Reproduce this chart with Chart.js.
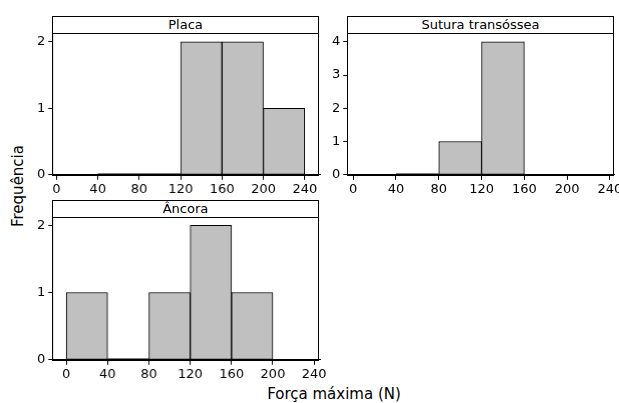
<!DOCTYPE html>
<html lang="pt">
<head>
  <meta charset="UTF-8" />
  <title>Força máxima (N)</title>
  <script src="https://cdn.jsdelivr.net/npm/chart.js"></script>
  <style>
    body {
      margin: 0;
      width: 619px;
      height: 403px;
      background: #fff;
      position: relative;
      overflow: hidden;
      font-family: "DejaVu Sans", sans-serif;
      color: #000;
    }
    canvas { position: absolute; }
    .frame {
      position: absolute;
      box-sizing: border-box;
      border: 1px solid #000;
      pointer-events: none;
    }
    .strip {
      position: absolute;
      box-sizing: border-box;
      border: 1px solid #000;
      background: #fff;
      font-size: 13px;
      line-height: 16px;
      text-align: center;
    }
    .axis-title {
      position: absolute;
      font-size: 15px;
      white-space: nowrap;
      text-align: center;
    }
  </style>
</head>
<body>
  <div class="axis-title" id="ytitle">Frequência</div>
  <div class="axis-title" id="xtitle">Força máxima (N)</div>
  <script>
    // bins are 40 N wide, each list holds the left edge of the bin
    const binWidth = 40;
    const xTicks = [0, 40, 80, 120, 160, 200, 240];

    const placaBins = [40, 80, 120, 160, 200];
    const placaCounts = [0, 0, 2, 2, 1];
    const placaYTicks = [0, 1, 2];

    const suturaBins = [40, 80, 120];
    const suturaCounts = [0, 1, 4];
    const suturaYTicks = [0, 1, 2, 3, 4];

    const ancoraBins = [0, 40, 80, 120, 160];
    const ancoraCounts = [1, 0, 1, 2, 1];
    const ancoraYTicks = [0, 1, 2];

    Chart.defaults.font.family = '"DejaVu Sans", sans-serif';
    Chart.defaults.font.size = 13;
    Chart.defaults.color = "#000";

    const panels = [
      { title: "Placa", bins: placaBins, counts: placaCounts, yTicks: placaYTicks,
        xMin: -4, xMax: 255, yMax: 2.135,
        box: { left: 52, top: 16, right: 318, strip: 33, bottom: 175 } },
      { title: "Sutura transóssea", bins: suturaBins, counts: suturaCounts, yTicks: suturaYTicks,
        xMin: -5.5, xMax: 244, yMax: 4.27,
        box: { left: 347, top: 16, right: 613, strip: 33, bottom: 175 } },
      { title: "Âncora", bins: ancoraBins, counts: ancoraCounts, yTicks: ancoraYTicks,
        xMin: -13.5, xMax: 246, yMax: 2.125,
        box: { left: 52, top: 200, right: 318, strip: 217, bottom: 360 } }
    ];

    function zeroSegments(bins, counts) {
      const pts = [];
      bins.forEach((b, i) => {
        if (counts[i] === 0) {
          if (pts.length && pts[pts.length - 1] && pts[pts.length - 1].x !== b) pts.push(null);
          pts.push({ x: b, y: 0 }, { x: b + binWidth, y: 0 });
        }
      });
      return pts;
    }

    function buildPanel(p) {
      const canvas = document.createElement("canvas");
      canvas.width = 400;
      canvas.height = 260;
      document.body.appendChild(canvas);

      const chart = new Chart(canvas, {
        type: "bar",
        data: {
          datasets: [
            {
              type: "bar",
              data: p.bins.map((b, i) => ({ x: b + binWidth / 2, y: p.counts[i] })),
              backgroundColor: "#c0c0c0",
              borderColor: "#000",
              borderWidth: 1,
              borderSkipped: false,
              barPercentage: 1,
              categoryPercentage: 1
            },
            {
              type: "line",
              data: zeroSegments(p.bins, p.counts),
              borderColor: "#000",
              borderWidth: 2.5,
              pointRadius: 0,
              spanGaps: false
            }
          ]
        },
        options: {
          responsive: false,
          maintainAspectRatio: false,
          animation: false,
          layout: { padding: 0 },
          plugins: { legend: { display: false }, tooltip: { enabled: false } },
          scales: {
            x: {
              type: "linear",
              min: p.xMin,
              max: p.xMax,
              offset: false,
              afterBuildTicks: s => { s.ticks = xTicks.map(v => ({ value: v })); },
              ticks: { autoSkip: false, maxRotation: 0, padding: 2 },
              grid: { offset: false, drawOnChartArea: false, color: "#000", tickLength: 5 },
              border: { color: "#000", width: 1 }
            },
            y: {
              min: 0,
              max: p.yMax,
              afterBuildTicks: s => { s.ticks = p.yTicks.map(v => ({ value: v })); },
              ticks: { padding: 3 },
              grid: { drawOnChartArea: false, color: "#000", tickLength: 4 },
              border: { color: "#000", width: 1 }
            }
          }
        }
      });

      // size the canvas so the plot area lands on the panel box
      const w = p.box.right - p.box.left + 1;
      const h = p.box.bottom - p.box.strip;
      for (let k = 0; k < 2; k++) {
        const a = chart.chartArea;
        chart.resize(chart.width + (w - (a.right - a.left)), chart.height + (h - (a.bottom - a.top)));
      }
      const a = chart.chartArea;
      canvas.style.left = Math.round(p.box.left - a.left) + "px";
      canvas.style.top = Math.round(p.box.strip - a.top) + "px";

      const frame = document.createElement("div");
      frame.className = "frame";
      Object.assign(frame.style, {
        left: p.box.left + "px", top: p.box.top + "px",
        width: (p.box.right - p.box.left + 1) + "px",
        height: (p.box.bottom - p.box.top + 1) + "px"
      });
      document.body.appendChild(frame);

      const strip = document.createElement("div");
      strip.className = "strip";
      strip.textContent = p.title;
      Object.assign(strip.style, {
        left: p.box.left + "px", top: p.box.top + "px",
        width: (p.box.right - p.box.left + 1) + "px",
        height: (p.box.strip - p.box.top + 1) + "px"
      });
      document.body.appendChild(strip);
    }

    panels.forEach(buildPanel);

    const yt = document.getElementById("ytitle");
    yt.style.width = "200px";
    yt.style.left = (18 - 100) + "px";
    yt.style.top = (186 - 9) + "px";
    yt.style.transform = "rotate(-90deg)";

    const xt = document.getElementById("xtitle");
    xt.style.width = "300px";
    xt.style.left = (334 - 150) + "px";
    xt.style.top = (394 - 9) + "px";
  </script>
</body>
</html>
